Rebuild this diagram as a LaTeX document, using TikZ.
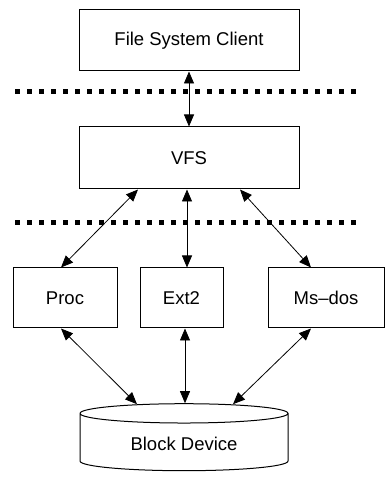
\documentclass[tikz,border=0pt]{standalone}
\usepackage{fontspec}
\setmainfont{Liberation Sans}
\usetikzlibrary{positioning,shapes.geometric,arrows.meta}

\tikzset{
  layer/.style={draw,line width=1pt,minimum height=60pt,inner sep=0pt},
  bidir/.style={{Triangle[length=12pt,width=10pt]}-{Triangle[length=12pt,width=10pt]},line width=0.8pt},
  sepline/.style={line width=5pt,dash pattern=on 5pt off 7pt}
}

\begin{document}
\begin{tikzpicture}[x=1pt,y=1pt,font=\fontsize{18.5}{20}\selectfont]
\useasboundingbox (0,0) rectangle (386,479);

\node[layer,minimum width=220pt,minimum height=61pt](client) at (189,438.5) {File System Client};
\node[layer,minimum width=220pt,minimum height=62pt,below=55pt of client](vfs) {VFS};
\node[layer,minimum width=83pt](ext2) at (181.5,181) {Ext2};
\node[layer,minimum width=104pt,left=22pt of ext2](proc) {Proc};
\node[layer,minimum width=116pt,right=44pt of ext2](msdos) {Ms--dos};
\node[draw,line width=1pt,cylinder,shape border rotate=90,aspect=0.17,
      minimum width=208pt,minimum height=67pt](block) at (184,35.5) {Block Device};

% dotted separators
\coordinate (s1a) at (15,387);
\coordinate (s1b) at (357,387);
\coordinate (s2a) at (15,256);
\coordinate (s2b) at (357,256);
\draw[sepline] (s1a) -- (s1b);
\draw[sepline] (s2a) -- (s2b);

\path (client) edge [bidir] (vfs);
\path ([xshift=-51pt]vfs.south) edge [bidir] ([xshift=-4pt]proc.north);
\path ([xshift=-2pt]vfs.south) edge [bidir] ([xshift=5.5pt]ext2.north);
\path ([xshift=51pt]vfs.south) edge [bidir] ([xshift=-15pt]msdos.north);
\path ([xshift=-4pt]proc.south) edge [bidir] ([xshift=-47pt,yshift=-1pt]block.north);
\path ([xshift=3.5pt]ext2.south) edge [bidir] ([xshift=1pt]block.north);
\path ([xshift=-15pt]msdos.south) edge [bidir] ([xshift=49pt,yshift=-1pt]block.north);
\end{tikzpicture}
\end{document}
